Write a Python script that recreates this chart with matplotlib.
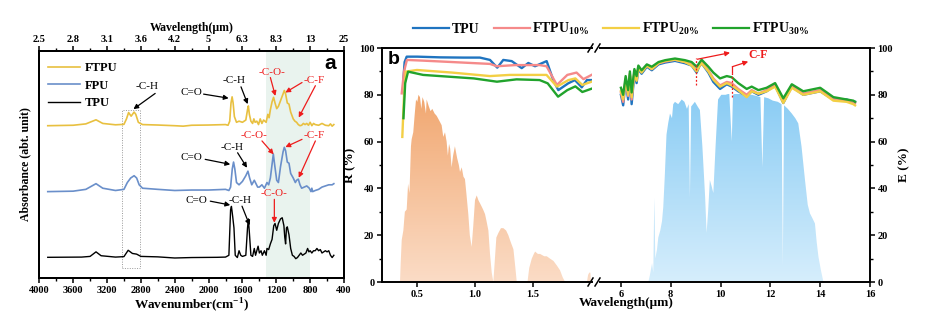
import numpy as np
import matplotlib
matplotlib.use('Agg')
import matplotlib.pyplot as plt
from matplotlib.colors import LinearSegmentedColormap
from matplotlib.lines import Line2D
from matplotlib.ticker import MultipleLocator

# ---------- panel a: FTIR absorbance (offset traces) ----------
tpu_wn = [3900, 3500, 3400, 3330, 3270, 3100, 3000, 2950, 2900, 2850, 2800, 2600, 2400, 2200, 1900, 1800,
          1760, 1740, 1730, 1715, 1700, 1685, 1660, 1640, 1620, 1600, 1560, 1540, 1530, 1520, 1500, 1480,
          1460, 1445, 1415, 1400, 1380, 1365, 1340, 1320, 1310, 1290, 1270, 1250, 1230, 1215, 1195, 1175,
          1150, 1130, 1110, 1100, 1090, 1080, 1070, 1050, 1030, 1010, 990, 970, 950, 930, 910, 890, 870,
          850, 830, 815, 800, 780, 760, 740, 720, 700, 680, 660, 640, 620, 600, 580, 560, 540, 520]
tpu_ab = [0.091, 0.092, 0.095, 0.115, 0.098, 0.092, 0.094, 0.122, 0.108, 0.105, 0.095, 0.093, 0.088, 0.090,
          0.091, 0.092, 0.100, 0.300, 0.315, 0.270, 0.220, 0.100, 0.090, 0.120, 0.100, 0.095, 0.100, 0.220,
          0.260, 0.210, 0.100, 0.095, 0.130, 0.100, 0.140, 0.110, 0.120, 0.100, 0.120, 0.100, 0.130, 0.125,
          0.150, 0.170, 0.230, 0.240, 0.210, 0.240, 0.260, 0.265, 0.230, 0.180, 0.150, 0.220, 0.225, 0.190,
          0.130, 0.100, 0.095, 0.085, 0.090, 0.100, 0.110, 0.100, 0.105, 0.110, 0.130, 0.115, 0.120, 0.110,
          0.120, 0.120, 0.130, 0.120, 0.125, 0.110, 0.115, 0.120, 0.115, 0.120, 0.100, 0.090, 0.100]

fpu_wn = [3900, 3600, 3450, 3330, 3250, 3100, 3000, 2960, 2920, 2880, 2850, 2820, 2780, 2600, 2400, 2200,
          2000, 1800, 1760, 1740, 1720, 1705, 1690, 1670, 1640, 1600, 1560, 1535, 1515, 1490, 1460, 1440,
          1420, 1400, 1370, 1340, 1310, 1290, 1270, 1250, 1235, 1220, 1195, 1175, 1150, 1120, 1105, 1090,
          1070, 1050, 1030, 1000, 975, 960, 940, 920, 900, 870, 840, 810, 790, 780, 770, 740, 700, 660,
          620, 580, 540, 520]
fpu_ab = [0.380, 0.382, 0.390, 0.415, 0.395, 0.385, 0.390, 0.420, 0.440, 0.450, 0.440, 0.410, 0.395, 0.390,
          0.385, 0.387, 0.387, 0.390, 0.385, 0.400, 0.480, 0.510, 0.480, 0.420, 0.410, 0.425, 0.450, 0.470,
          0.440, 0.410, 0.430, 0.415, 0.400, 0.400, 0.410, 0.395, 0.420, 0.410, 0.440, 0.500, 0.545, 0.500,
          0.430, 0.420, 0.490, 0.555, 0.575, 0.560, 0.510, 0.505, 0.460, 0.440, 0.420, 0.430, 0.435, 0.410,
          0.395, 0.400, 0.405, 0.395, 0.380, 0.395, 0.380, 0.385, 0.390, 0.400, 0.405, 0.410, 0.410, 0.415]

ftpu_wn = [3900, 3600, 3450, 3330, 3250, 3100, 3000, 2970, 2945, 2915, 2880, 2860, 2830, 2780, 2600, 2400,
           2300, 2200, 2000, 1800, 1770, 1750, 1735, 1722, 1710, 1695, 1670, 1640, 1600, 1560, 1540, 1530,
           1518, 1500, 1480, 1465, 1450, 1430, 1410, 1390, 1370, 1350, 1320, 1300, 1285, 1270, 1250, 1232,
           1215, 1195, 1175, 1150, 1125, 1105, 1090, 1070, 1050, 1030, 1000, 980, 960, 940, 920, 900, 880,
           860, 840, 820, 800, 780, 760, 740, 700, 660, 620, 580, 560, 540, 520]
ftpu_ab = [0.670, 0.672, 0.678, 0.696, 0.680, 0.674, 0.676, 0.700, 0.728, 0.712, 0.730, 0.720, 0.685, 0.675,
           0.673, 0.670, 0.668, 0.672, 0.673, 0.675, 0.672, 0.690, 0.770, 0.797, 0.770, 0.710, 0.685, 0.690,
           0.685, 0.695, 0.740, 0.757, 0.720, 0.690, 0.680, 0.700, 0.685, 0.690, 0.675, 0.700, 0.680, 0.695,
           0.685, 0.720, 0.705, 0.740, 0.775, 0.795, 0.770, 0.745, 0.755, 0.780, 0.805, 0.825, 0.810, 0.770,
           0.765, 0.730, 0.700, 0.690, 0.685, 0.675, 0.670, 0.672, 0.680, 0.675, 0.680, 0.672, 0.685, 0.670,
           0.680, 0.675, 0.672, 0.680, 0.672, 0.670, 0.678, 0.668, 0.675]

wn_ticks = [4000, 3600, 3200, 2800, 2400, 2000, 1600, 1200, 800, 400]
wl_labels = ['2.5', '2.8', '3.1', '3.6', '4.2', '5', '6.3', '8.3', '13', '25']

# ---------- panel b: reflectance (VIS-NIR) and emissivity (MIR) ----------
r_wl_tpu = [0.379, 0.390, 0.408, 0.50, 0.70, 0.90, 1.043, 1.13, 1.193, 1.245, 1.318, 1.405, 1.462, 1.52,
            1.621, 1.678, 1.722, 1.808, 1.866, 1.925, 1.97, 2.01]
r_tpu = [86.3, 94.0, 96.3, 96.3, 96.0, 95.9, 95.9, 94.9, 91.6, 94.9, 94.4, 91.4, 93.6, 92.2,
         94.4, 86.3, 82.0, 84.9, 86.3, 83.2, 86.3, 86.3]
r_wl_f10 = [0.365, 0.385, 0.41, 0.55, 0.80, 1.13, 1.19, 1.35, 1.56, 1.62, 1.71, 1.80, 1.88, 1.94, 2.01]
r_f10 = [80.6, 90.0, 94.9, 94.6, 94.0, 93.2, 92.2, 92.7, 92.7, 92.2, 84.2, 88.5, 89.5, 86.7, 88.5]
r_wl_f20 = [0.37, 0.385, 0.40, 0.497, 0.80, 1.13, 1.30, 1.62, 1.71, 1.81, 1.87, 1.93, 2.01]
r_f20 = [62.0, 80.0, 89.9, 90.6, 89.5, 88.0, 88.5, 88.5, 83.5, 86.3, 87.0, 84.2, 85.6]
r_wl_f30 = [0.38, 0.395, 0.42, 0.55, 0.99, 1.19, 1.36, 1.56, 1.63, 1.72, 1.80, 1.87, 1.93, 2.01]
r_f30 = [70.0, 85.0, 89.9, 88.5, 87.0, 85.6, 86.6, 86.3, 84.9, 79.2, 82.0, 83.6, 81.2, 82.6]

e_wl = [6.0, 6.09, 6.19, 6.29, 6.36, 6.43, 6.54, 6.63, 6.70, 6.83, 7.04, 7.24, 7.51, 7.78, 8.17, 8.57,
        8.84, 9.04, 9.14, 9.24, 9.51, 9.71, 9.98, 10.25, 10.45, 10.71, 11.05, 11.25, 11.52, 11.85, 12.19,
        12.52, 12.86, 13.32, 14.0, 14.53, 15.06, 15.33, 15.4]
e_tpu = [80, 75.5, 86, 78, 88, 76, 89, 85, 91, 89, 92, 90.5, 93, 93.8, 94.5, 93.5, 92.5, 89.5, 92, 93.5,
         89.5, 85.5, 82.5, 84.5, 83.5, 81.5, 79.5, 81.5, 80, 81.5, 84, 76.5, 83.5, 80, 81.5, 78, 78, 77, 77]
e_f10 = [81, 77, 87, 79.5, 89, 78, 90, 86.5, 92, 90, 92.5, 91, 93.5, 94.2, 95, 94, 93, 90.5, 92.5, 94,
         90.5, 87, 84, 85.5, 85, 82.5, 80, 82, 80.5, 82, 84.5, 77.5, 84, 80.5, 82, 78, 77.5, 77, 76.5]
e_f20 = [81.5, 78, 86.5, 80, 88.5, 79, 89.5, 86, 91.5, 89.5, 92.5, 91, 93.5, 94.5, 95, 94, 92.5, 90, 92,
         93.5, 90, 86.5, 83.5, 85, 84, 82, 79, 81.5, 80.5, 81.5, 83.5, 76.5, 83, 80, 81.5, 77.5, 77, 76, 75.5]
e_f30 = [83, 80, 88, 82, 90, 81, 91, 88, 92.5, 90.5, 93, 92, 94, 94.8, 95.5, 94.8, 94, 92, 93.5, 95,
         92, 89.5, 87, 88, 87.5, 85, 82.5, 83.5, 82, 83, 85, 78.5, 84.5, 81.5, 83, 79, 78, 77.5, 77]

# normalised AM1.5 solar spectrum (orange) and atmospheric window (blue)
sun_wl = [0.350, 0.356, 0.365, 0.379, 0.392, 0.408, 0.420, 0.432, 0.445, 0.451, 0.465, 0.478, 0.489, 0.500,
          0.510, 0.523, 0.535, 0.545, 0.560, 0.575, 0.581, 0.600, 0.615, 0.630, 0.650, 0.668, 0.690, 0.711,
          0.725, 0.740, 0.754, 0.765, 0.775, 0.785, 0.797, 0.810, 0.826, 0.845, 0.860, 0.870, 0.885, 0.900,
          0.913, 0.925, 0.942, 0.955, 0.971, 0.985, 1.000, 1.015, 1.029, 1.050, 1.070, 1.087, 1.100, 1.116,
          1.130, 1.145, 1.159, 1.170, 1.185, 1.203, 1.225, 1.246, 1.270, 1.289, 1.310, 1.333, 1.350, 1.362,
          1.455, 1.470, 1.492, 1.510, 1.521, 1.545, 1.564, 1.600, 1.622, 1.650, 1.680, 1.710, 1.737, 1.760,
          1.781, 1.970, 1.980, 1.990, 2.000, 2.005]
sun_val = [0, 8, 18, 22, 30, 31, 42, 38, 58, 61, 64, 72, 78, 77, 80, 79, 74, 79, 77, 72, 78, 75, 73, 74, 72,
           71, 69, 67, 62, 64, 60, 54, 59, 57, 49, 54, 58, 53, 50, 47, 49, 45, 44, 38, 29, 20, 15, 24, 35, 37,
           35, 33, 31, 29, 26, 22, 12, 4, 0, 8, 19, 21, 23, 23, 22, 20, 17, 14, 6, 0, 0, 6, 10, 12, 13, 12, 12,
           11, 11, 10, 9, 7, 5, 2, 0, 0, 3, 4, 4, 0]
atm_wl = [7.10, 7.165, 7.25, 7.30, 7.34, 7.38, 7.45, 7.50, 7.58, 7.65, 7.70, 7.76, 7.83, 7.90, 7.97, 8.05,
          8.10, 8.17, 8.30, 8.44, 8.55, 8.65, 8.72, 8.77, 8.82, 8.97, 9.08, 9.17, 9.27, 9.38, 9.44, 9.50,
          9.57, 9.64, 9.71, 9.80, 9.90, 10.03, 10.20, 10.35, 10.45, 10.50, 10.58, 10.80, 11.00, 11.25, 11.45,
          11.60, 11.68, 11.75, 11.92, 12.10, 12.30, 12.45, 12.50, 12.55, 12.70, 12.86, 13.00, 13.12, 13.25,
          13.39, 13.50, 13.59, 13.70, 13.79, 13.86, 13.93, 14.03, 14.13]
atm_val = [0, 3, 8, 4, 36, 10, 14, 19, 22, 26, 32, 45, 63, 68, 72, 70, 76, 77, 76, 78, 77, 74, 76, 36, 75,
           77, 75, 73.5, 58, 36.5, 21, 30, 43.6, 41, 38, 58, 78, 80, 80, 80.5, 60, 80, 80.5, 80.5, 80, 80,
           79.5, 79, 49, 79, 78.5, 77.5, 77, 76, 6.5, 75.5, 74, 72, 70, 67.8, 58, 43.6, 33, 29.3, 27, 25, 17,
           10.8, 5, 0]

W, H = 929, 328
SERIF = 'Liberation Serif'
plt.rcParams['font.family'] = SERIF
plt.rcParams['font.weight'] = 'bold'
plt.rcParams['axes.labelweight'] = 'bold'
plt.rcParams['mathtext.fontset'] = 'custom'
plt.rcParams['mathtext.rm'] = SERIF
plt.rcParams['mathtext.bf'] = SERIF + ':bold'


def rect(l, t, r, b):
    return [l / W, 1 - b / H, (r - l) / W, (b - t) / H]


def grad_fill(ax, x, y, c_top, c_bot, ymax):
    x = np.asarray(x, float)
    poly = ax.fill_between(x, 0, y, facecolor='none', edgecolor='none')
    cmap = LinearSegmentedColormap.from_list('g', [c_bot, c_top])
    grad = np.linspace(0, 1, 256).reshape(-1, 1)
    im = ax.imshow(grad, extent=[x.min(), x.max(), 0, ymax], origin='lower',
                   aspect='auto', cmap=cmap, zorder=1)
    im.set_clip_path(poly.get_paths()[0], ax.transData)


fig = plt.figure(figsize=(W / 100, H / 100), dpi=100)

# ===================== panel a =====================
ax = fig.add_axes(rect(39.3, 50.7, 344, 278))
ax.axvspan(1320, 800, color='#e9f3ee', zorder=0, lw=0)
ax.add_patch(plt.Rectangle((3020, 0.045), -210, 0.695, fill=False, ls=(0, (1, 1.5)),
                           lw=0.7, ec='#999999', zorder=1))
ax.plot(ftpu_wn, ftpu_ab, color='#e8c040', lw=1.2, label='FTPU', zorder=3)
ax.plot(fpu_wn, fpu_ab, color='#6a8fca', lw=1.2, label='FPU', zorder=3)
ax.plot(tpu_wn, tpu_ab, color='black', lw=1.0, label='TPU', zorder=3)
ax.set_xlim(4000, 400)
ax.set_ylim(0, 1)
ax.set_xticks(wn_ticks)
ax.xaxis.set_minor_locator(MultipleLocator(200))
ax.set_yticks([])
ax.tick_params(axis='x', which='major', direction='out', length=3.5, width=1.1, labelsize=7.5, pad=2)
ax.tick_params(axis='x', which='minor', direction='out', length=2, width=1)
for s in ax.spines.values():
    s.set_linewidth(1.4)
ax.set_xlabel('Wavenumber(cm$^{\\mathbf{-1}}$)', fontsize=9.5, labelpad=1)
ax.set_ylabel('Absorbance (abt. unit)', fontsize=8.5, labelpad=6)
leg = ax.legend(loc='upper left', bbox_to_anchor=(-0.01, 1.0), frameon=False, handlelength=2.6,
                handletextpad=0.4, labelspacing=0.45, prop={'family': SERIF, 'weight': 'bold', 'size': 9})
ax.text(0.975, 0.945, 'a', transform=ax.transAxes, ha='right', va='center', fontsize=15,
        fontweight='bold', family='Liberation Sans')

axt = ax.twiny()
axt.set_xlim(4000, 400)
axt.set_xticks(wn_ticks)
axt.set_xticklabels(wl_labels)
axt.xaxis.set_minor_locator(MultipleLocator(200))
axt.tick_params(axis='x', which='major', direction='out', length=3.5, width=1.1, labelsize=7.5, pad=1.5)
axt.tick_params(axis='x', which='minor', direction='out', length=2, width=1)
axt.set_xlabel('Wavelength(μm)', fontsize=8.5, labelpad=3)
for s in axt.spines.values():
    s.set_linewidth(1.4)

def arrow(a, txt, xy, xytext, tpos, color):
    a.annotate('', xy=xy, xytext=xytext,
               arrowprops=dict(arrowstyle='-|>', color=color, lw=0.9, mutation_scale=7,
                               shrinkA=0, shrinkB=0), zorder=5)
    if txt:
        a.text(tpos[0], tpos[1], txt, color=color, fontsize=8, fontweight='normal',
               ha='center', va='center', zorder=5)

RED = '#ee1c1c'
# FTPU
arrow(ax, '-C-H', (2888, 0.743), (2631, 0.812), (2730, 0.841), 'black')
arrow(ax, 'C=O', (1763, 0.791), (2059, 0.809), (2197, 0.816), 'black')
arrow(ax, '-C-H', (1538, 0.765), (1617, 0.841), (1704, 0.871), 'black')
arrow(ax, '-C-O-', (1211, 0.801), (1270, 0.882), (1250, 0.904), RED)
arrow(ax, '-C-F', (1093, 0.816), (896, 0.860), (757, 0.871), RED)
arrow(ax, '', (935, 0.706), (738, 0.846), None, RED)
# FPU
arrow(ax, 'C=O', (1744, 0.500), (2040, 0.522), (2197, 0.529), 'black')
arrow(ax, '-C-H', (1546, 0.485), (1657, 0.551), (1724, 0.576), 'black')
arrow(ax, '-C-O-', (1231, 0.544), (1369, 0.603), (1467, 0.625), RED)
arrow(ax, '-C-F', (1093, 0.576), (896, 0.610), (757, 0.625), RED)
arrow(ax, '', (935, 0.441), (738, 0.603), None, RED)
# TPU
arrow(ax, 'C=O', (1744, 0.321), (1980, 0.338), (2138, 0.341), 'black')
arrow(ax, '-C-H', (1515, 0.232), (1605, 0.316), (1625, 0.341), 'black')
arrow(ax, '-C-O-', (1223, 0.243), (1223, 0.346), (1223, 0.371), RED)

# ===================== panel b =====================
b1 = fig.add_axes(rect(382, 48, 592, 282))
b2 = fig.add_axes(rect(600, 48, 870, 282))

grad_fill(b1, sun_wl, sun_val, '#f1a770', '#fbdcc6', 80)
grad_fill(b2, atm_wl, atm_val, '#8accf4', '#d6eefc', 80)

cols = ['#1f74c0', '#f58a8a', '#f3cf45', '#21a32c']
names = ['TPU', 'FTPU$_{\\mathregular{10\\%}}$', 'FTPU$_{\\mathregular{20\\%}}$', 'FTPU$_{\\mathregular{30\\%}}$']
for xs, ys, c in zip([r_wl_tpu, r_wl_f10, r_wl_f20, r_wl_f30], [r_tpu, r_f10, r_f20, r_f30], cols):
    b1.plot(xs, ys, color=c, lw=1.7, zorder=3)
for ys, c in zip([e_tpu, e_f10, e_f20, e_f30], cols):
    b2.plot(e_wl, ys, color=c, lw=1.7, zorder=3)

b1.set_xlim(0.194, 2.014)
b2.set_xlim(5.16, 16)
for a in (b1, b2):
    a.set_ylim(0, 100)
    for s in a.spines.values():
        s.set_linewidth(1.4)
    a.tick_params(which='major', direction='out', length=3.5, width=1.1, labelsize=7.5, pad=2)
    a.tick_params(which='minor', direction='out', length=2, width=1)
b1.spines['right'].set_visible(False)
b2.spines['left'].set_visible(False)
b1.set_xticks([0.5, 1.0, 1.5])
b1.set_xticklabels(['0.5', '1.0', '1.5'])
b2.set_xticks([6, 8, 10, 12, 14, 16])
b1.set_yticks([0, 20, 40, 60, 80, 100])
b1.yaxis.set_minor_locator(MultipleLocator(10))
b2.yaxis.tick_right()
b2.yaxis.set_label_position('right')
b2.set_yticks([0, 20, 40, 60, 80, 100])
b2.yaxis.set_minor_locator(MultipleLocator(10))
b1.set_ylabel('R (%)', fontsize=9.5, labelpad=2)
b2.set_ylabel('E (%)', fontsize=9.5, labelpad=4)
fig.text(626 / W, 1 - 303 / H, 'Wavelength(μm)', ha='center', va='center', fontsize=9.5, fontweight='bold')
b1.text(0.025, 0.95, 'b', transform=b1.transAxes, ha='left', va='center', fontsize=14,
        fontweight='bold', family='Liberation Sans')

# axis break marks
for ypx in (48, 282):
    for x0 in (588, 595):
        fig.add_artist(Line2D([x0 / W, (x0 + 5) / W], [1 - (ypx + 4) / H, 1 - (ypx - 4) / H],
                              color='black', lw=1.1))

# C-F markers in emissivity
b2.plot([9.0, 9.0], [84.2, 95.6], color=RED, ls=(0, (1.5, 1.5)), lw=0.9, zorder=4)
b2.plot([10.47, 10.47], [79.2, 89.9], color=RED, ls=(0, (1.5, 1.5)), lw=0.9, zorder=4)
b2.annotate('', xy=(10.38, 98.0), xytext=(9.07, 95.2),
            arrowprops=dict(arrowstyle='-|>', color=RED, lw=0.9, mutation_scale=7, shrinkA=0, shrinkB=0))
b2.plot([10.47, 10.47], [89.9, 92.0], color=RED, lw=0.9)
b2.annotate('', xy=(11.11, 94.2), xytext=(10.47, 92.0),
            arrowprops=dict(arrowstyle='-|>', color=RED, lw=0.9, mutation_scale=7, shrinkA=0, shrinkB=0))
b2.text(11.5, 97.2, 'C-F', color=RED, fontsize=8.5, ha='center', va='center', fontweight='bold')

handles = [Line2D([], [], color=c, lw=1.6) for c in cols]
fig.legend(handles, names, loc='center', bbox_to_anchor=(611 / W, 1 - 29 / H), ncol=4, frameon=False,
           handlelength=2.6, handletextpad=0.2, columnspacing=1.0,
           prop={'family': SERIF, 'weight': 'bold', 'size': 10})

fig.savefig('out.png', dpi=100)
